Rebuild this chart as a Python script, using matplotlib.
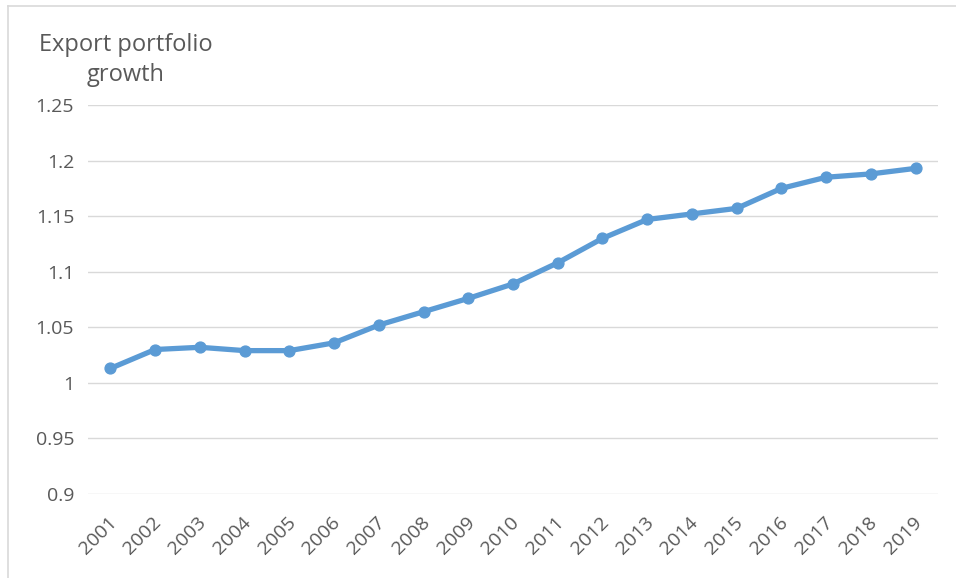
import numpy as np
import matplotlib.pyplot as plt
from matplotlib.lines import Line2D
from matplotlib.transforms import ScaledTranslation

years = ['2001', '2002', '2003', '2004', '2005', '2006', '2007', '2008', '2009', '2010',
         '2011', '2012', '2013', '2014', '2015', '2016', '2017', '2018', '2019']
growth = [1.013, 1.030, 1.032, 1.029, 1.029, 1.036, 1.052, 1.064, 1.076, 1.089,
          1.108, 1.130, 1.147, 1.152, 1.157, 1.175, 1.185, 1.188, 1.193]
y_ticks = [0.9, 0.95, 1.0, 1.05, 1.1, 1.15, 1.2, 1.25]
y_labels = ['0.9', '0.95', '1', '1.05', '1.1', '1.15', '1.2', '1.25']

grey = '#595959'
blue = '#5B9BD5'
plt.rcParams['font.family'] = ['Open Sans', 'DejaVu Sans']

fig = plt.figure(figsize=(9.56, 5.78), dpi=100)
ax = fig.add_axes([88 / 956, 84 / 578, 850 / 956, 389 / 578])

x = np.arange(len(years))
ax.plot(x, growth, color=blue, lw=3.8, marker='o', ms=7.8, solid_capstyle='round', zorder=3)

ax.set_xlim(-0.5, len(years) - 0.5)
ax.set_ylim(0.9, 1.25)
ax.set_yticks(y_ticks)
ax.set_yticklabels(y_labels)
ax.set_xticks(x)
ax.set_xticklabels(years, rotation=45, ha='right', va='top', rotation_mode='anchor')
ax.tick_params(axis='both', length=0, labelsize=14, colors=grey)
ax.tick_params(axis='y', pad=10)
ax.tick_params(axis='x', pad=0)
shift = ScaledTranslation(-2 / 72, -14 / 72, fig.dpi_scale_trans)
for lab in ax.get_xticklabels():
    lab.set_transform(lab.get_transform() + shift)

ax.grid(axis='y', color='#d9d9d9', lw=1)
ax.set_axisbelow(True)
for s in ax.spines.values():
    s.set_visible(False)

fig.text(126 / 956, 1 - 45 / 578, 'Export portfolio', ha='center', va='center', fontsize=17, color=grey)
fig.text(126 / 956, 1 - 75 / 578, 'growth', ha='center', va='center', fontsize=17, color=grey)

# outer chart frame (top and left edges only)
fig.add_artist(Line2D([8 / 956, 1], [1 - 6 / 578, 1 - 6 / 578], color='#d9d9d9', lw=1.2))
fig.add_artist(Line2D([8 / 956, 8 / 956], [0, 1 - 6 / 578], color='#d9d9d9', lw=1.2))

fig.savefig('out.png', dpi=100)
